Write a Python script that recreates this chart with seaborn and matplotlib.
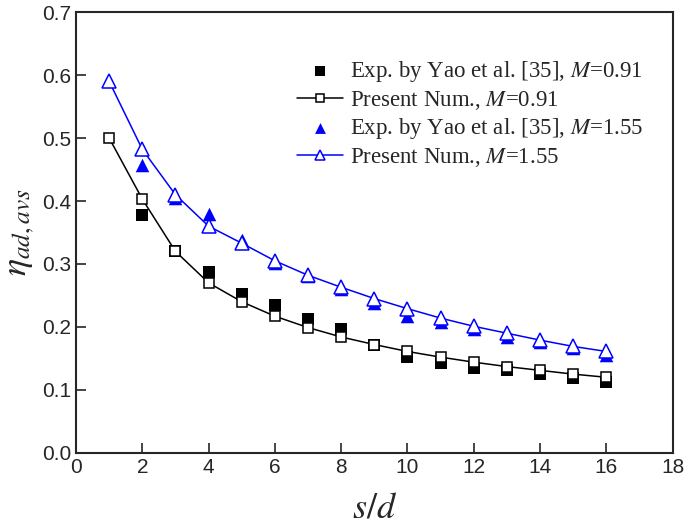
import numpy as np
import pandas as pd
import matplotlib
matplotlib.use("Agg")
import matplotlib.pyplot as plt
import seaborn as sns

sns.set_style("ticks")
plt.rcParams['font.family'] = ['Liberation Sans', 'DejaVu Sans']
plt.rcParams['mathtext.fontset'] = 'stix'

# data
x_num = [1, 2, 3, 4, 5, 6, 7, 8, 9, 10, 11, 12, 13, 14, 15, 16]
num_091 = [0.500, 0.403, 0.320, 0.270, 0.240, 0.217, 0.199, 0.184, 0.172, 0.161,
           0.152, 0.144, 0.137, 0.131, 0.125, 0.120]
num_155 = [0.590, 0.482, 0.410, 0.360, 0.333, 0.305, 0.282, 0.263, 0.245, 0.229,
           0.214, 0.201, 0.190, 0.179, 0.169, 0.161]
x_exp = [2, 3, 4, 5, 6, 7, 8, 9, 10, 11, 12, 13, 14, 15, 16]
exp_091 = [0.377, 0.320, 0.287, 0.253, 0.235, 0.212, 0.196, 0.172, 0.152, 0.143,
           0.135, 0.131, 0.126, 0.119, 0.112]
exp_155 = [0.457, 0.405, 0.380, 0.338, 0.302, 0.281, 0.261, 0.238, 0.218, 0.208,
           0.197, 0.184, 0.176, 0.166, 0.156]

fig = plt.figure(figsize=(6.85, 5.29), dpi=100)
ax = fig.add_axes([0.111, 0.144, 0.871, 0.833])

sns.scatterplot(x=x_exp, y=exp_091, ax=ax, marker='s', color='black', s=70,
                edgecolor='black', linewidth=0, label='Exp. by Yao et al. [35], $\\mathit{M}$=0.91', zorder=3)
sns.lineplot(x=x_num, y=num_091, ax=ax, color='black', linewidth=1.1, marker='s',
             markersize=7.5, markerfacecolor='white', markeredgecolor='black', markeredgewidth=1.1,
             label='Present Num., $\\mathit{M}$=0.91', zorder=4)
sns.scatterplot(x=x_exp, y=exp_155, ax=ax, marker='^', color='blue', s=95,
                edgecolor='blue', linewidth=0, label='Exp. by Yao et al. [35], $\\mathit{M}$=1.55', zorder=3)
sns.lineplot(x=x_num, y=num_155, ax=ax, color='blue', linewidth=1.1, marker='^',
             markersize=9.5, markerfacecolor='white', markeredgecolor='blue', markeredgewidth=1.1,
             label='Present Num., $\\mathit{M}$=1.55', zorder=4)

ax.set_xlim(0, 18)
ax.set_ylim(0, 0.7)
ax.set_xticks(np.arange(0, 19, 2))
ax.set_yticks(np.arange(0, 0.71, 0.1))
ax.set_yticklabels([f"{v:.1f}" for v in np.arange(0, 0.71, 0.1)])
ax.tick_params(direction='in', length=7, width=1.2, labelsize=15, top=False, right=False)
for s in ax.spines.values():
    s.set_linewidth(1.5)
    s.set_visible(True)

ax.set_xlabel('$s/d$', fontsize=26, labelpad=10)
ax.set_ylabel('$\\eta_{ad,avs}$', fontsize=26, labelpad=4)

leg = ax.legend(loc='upper right', bbox_to_anchor=(0.985, 0.94), frameon=False,
                prop={'family': 'Liberation Serif', 'size': 16.5}, handlelength=2.0,
                handletextpad=0.3, labelspacing=0.2, markerscale=0.8)

fig.savefig('out.png', dpi=100)
